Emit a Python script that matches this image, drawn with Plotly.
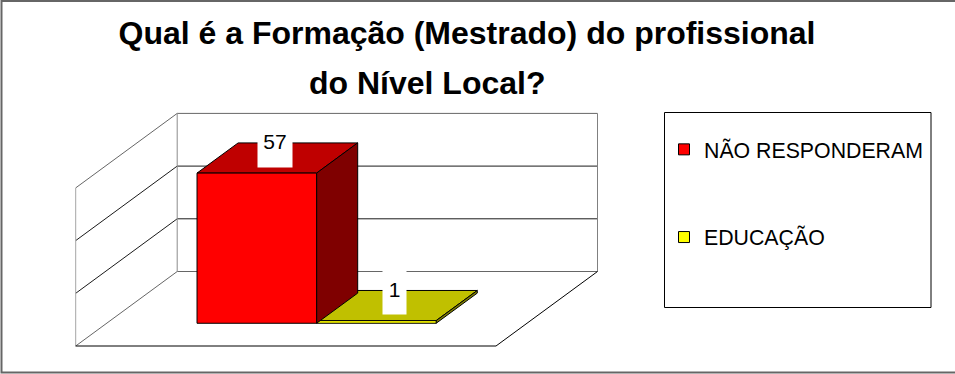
import plotly.graph_objects as go

# ---- data ----
TITLE_LINE_1 = "Qual é a Formação (Mestrado) do profissional"
TITLE_LINE_2 = "do Nível Local?"
SERIES_NAMES = ["NÃO RESPONDERAM", "EDUCAÇÃO"]
SERIES_VALUES = [57, 1]
VALUE_TICKS = [0, 20, 40, 60]

# ---- styles ----
FRONT = ["#FF0000", "#FFFF00"]
TOP = ["#BF0000", "#C0C000"]
SIDE = ["#7F0000", "#808000"]
WIDTH, HEIGHT = 955, 374

# ---- scales: x axis is a fraction of floor width, y axis is in value units ----
FLOOR_LEFT_PX, FLOOR_WIDTH_PX = 75.7, 420.3
FLOOR_FRONT_PX, PX_PER_VALUE = 346.0, 2.635
DEPTH_X = 101.5 / FLOOR_WIDTH_PX
DEPTH_Y = 74.5 / PX_PER_VALUE
BAR_START, BAR_WIDTH = 0.215, 0.2845
BAR_D0, BAR_D1 = 0.305, 0.71


def proj(x, value, depth):
    """Oblique projection of (floor x, value, depth) on to the 2-D axes."""
    return x + depth * DEPTH_X, value + depth * DEPTH_Y


def poly(points, fill, name=None):
    pts = [proj(*p) for p in points]
    xs = [p[0] for p in pts] + [pts[0][0]]
    ys = [p[1] for p in pts] + [pts[0][1]]
    return go.Scatter(x=xs, y=ys, mode="lines", fill="toself", fillcolor=fill,
                      line=dict(color="#000000", width=1), hoverinfo="skip",
                      showlegend=False)


def seg(points, color, width=1):
    pts = [proj(*p) for p in points]
    return go.Scatter(x=[p[0] for p in pts], y=[p[1] for p in pts], mode="lines",
                      line=dict(color=color, width=width), hoverinfo="skip",
                      showlegend=False)


fig = go.Figure()
top_v = VALUE_TICKS[-1]

# walls and floor
for i, v in enumerate(VALUE_TICKS):
    edge = v in (VALUE_TICKS[0], VALUE_TICKS[-1])
    col = "#666666" if edge else "#1A1A1A"
    fig.add_trace(seg([(0, v, 0), (0, v, 1), (1, v, 1)], col))
fig.add_trace(seg([(0, 0, 0), (0, top_v, 0)], "#A6A6A6"))
fig.add_trace(seg([(0, 0, 1), (0, top_v, 1)], "#8C8C8C"))
fig.add_trace(seg([(1, 0, 1), (1, top_v, 1)], "#808080"))
fig.add_trace(seg([(0, 0, 0), (1, 0, 0), (1, 0, 1)], "#000000"))

# bars: later bars first so the taller first bar overlaps the second one
order = list(range(len(SERIES_VALUES)))[::-1]
for i in order:
    v = SERIES_VALUES[i]
    x0 = BAR_START + i * BAR_WIDTH
    x1 = x0 + BAR_WIDTH
    fig.add_trace(poly([(x0, v, BAR_D0), (x1, v, BAR_D0), (x1, v, BAR_D1), (x0, v, BAR_D1)], TOP[i]))
    fig.add_trace(poly([(x1, 0, BAR_D0), (x1, v, BAR_D0), (x1, v, BAR_D1), (x1, 0, BAR_D1)], SIDE[i]))
    fig.add_trace(poly([(x0, 0, BAR_D0), (x1, 0, BAR_D0), (x1, v, BAR_D0), (x0, v, BAR_D0)], FRONT[i]))

# legend entries
for name, color in zip(SERIES_NAMES, FRONT):
    fig.add_trace(go.Scatter(x=[None], y=[None], mode="markers", name=name, legendgroup=name,
                             marker=dict(symbol="square", size=11, color=color,
                                         line=dict(color="#000000", width=1))))

# data labels
annotations = []
LABEL_W = [32, 21]
LABEL_H = [50, 48]
for i, v in enumerate(SERIES_VALUES):
    xm = BAR_START + (i + 0.5) * BAR_WIDTH
    lx, ly = proj(xm, v, (BAR_D0 + BAR_D1) / 2)
    annotations.append(dict(x=lx, y=ly, xref="x", yref="y", text=str(v), showarrow=False,
                            xanchor="center", yanchor="middle", xshift=-2, yshift=17,
                            width=LABEL_W[i], height=LABEL_H[i], bgcolor="#FFFFFF",
                            font=dict(family="Liberation Sans", size=21, color="#000000")))
annotations.append(dict(x=426.5 / WIDTH, y=1 - 83 / HEIGHT, xref="paper", yref="paper",
                        text="<b>%s</b>" % TITLE_LINE_2, showarrow=False,
                        xanchor="center", yanchor="middle",
                        font=dict(family="Liberation Sans", size=32, color="#000000")))


def rect(x0, y0, x1, y1, color, width):
    return dict(type="rect", xref="paper", yref="paper", x0=x0 / WIDTH, x1=x1 / WIDTH,
                y0=1 - y0 / HEIGHT, y1=1 - y1 / HEIGHT, line=dict(color=color, width=width),
                fillcolor="rgba(0,0,0,0)", layer="below")


fig.update_layout(
    width=WIDTH, height=HEIGHT, margin=dict(l=0, r=0, t=0, b=0),
    paper_bgcolor="#FFFFFF", plot_bgcolor="#FFFFFF", autosize=False,
    title=dict(text="<b>%s</b>" % TITLE_LINE_1, x=467 / WIDTH, xanchor="center",
               y=1 - 33 / HEIGHT, yanchor="middle",
               font=dict(family="Liberation Sans", size=32, color="#000000")),
    xaxis=dict(visible=False, fixedrange=True,
               range=[-FLOOR_LEFT_PX / FLOOR_WIDTH_PX, (WIDTH - FLOOR_LEFT_PX) / FLOOR_WIDTH_PX]),
    yaxis=dict(visible=False, fixedrange=True,
               range=[(FLOOR_FRONT_PX - HEIGHT) / PX_PER_VALUE, FLOOR_FRONT_PX / PX_PER_VALUE]),
    shapes=[rect(1.5, 1, 960, 372.5, "#666666", 2), rect(664.5, 112.5, 931, 307.5, "#000000", 1)],
    annotations=annotations,
    showlegend=True,
    legend=dict(x=664 / WIDTH, y=1 - 129 / HEIGHT, xanchor="left", yanchor="top",
                bgcolor="rgba(0,0,0,0)", borderwidth=0, itemwidth=30, itemclick=False,
                itemdoubleclick=False, tracegroupgap=57, traceorder="grouped",
                font=dict(family="Liberation Sans", size=21.3, color="#000000")),
)

fig.write_html("out.html", config={"displayModeBar": False},
               post_script="document.body.style.margin='0';document.body.style.overflow='hidden';")
